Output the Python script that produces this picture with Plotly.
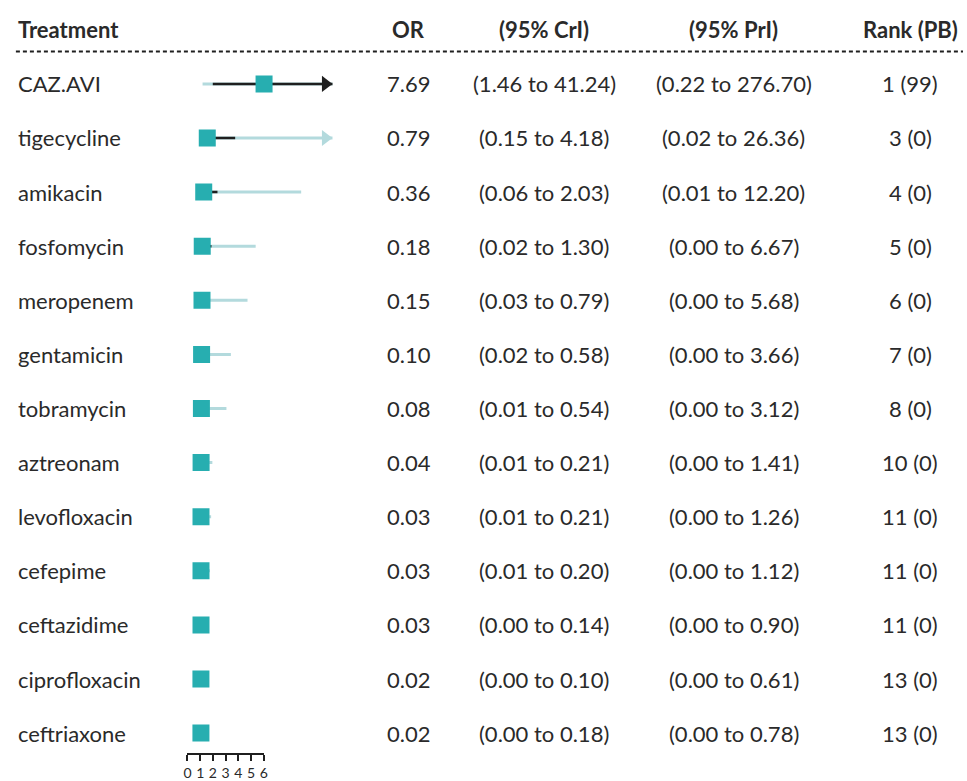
import plotly.graph_objects as go

treatments = ["CAZ.AVI", "tigecycline", "amikacin", "fosfomycin", "meropenem", "gentamicin",
              "tobramycin", "aztreonam", "levofloxacin", "cefepime", "ceftazidime",
              "ciprofloxacin", "ceftriaxone"]
or_vals = [7.69, 0.79, 0.36, 0.18, 0.15, 0.10, 0.08, 0.04, 0.03, 0.03, 0.03, 0.02, 0.02]
cri_lo = [1.46, 0.15, 0.06, 0.02, 0.03, 0.02, 0.01, 0.01, 0.01, 0.01, 0.00, 0.00, 0.00]
cri_hi = [41.24, 4.18, 2.03, 1.30, 0.79, 0.58, 0.54, 0.21, 0.21, 0.20, 0.14, 0.10, 0.18]
pri_lo = [0.22, 0.02, 0.01, 0.00, 0.00, 0.00, 0.00, 0.00, 0.00, 0.00, 0.00, 0.00, 0.00]
pri_hi = [276.70, 26.36, 12.20, 6.67, 5.68, 3.66, 3.12, 1.41, 1.26, 1.12, 0.90, 0.61, 0.78]
rank = [1, 3, 4, 5, 6, 7, 8, 10, 11, 11, 11, 13, 13]
pb = [99, 0, 0, 0, 0, 0, 0, 0, 0, 0, 0, 0, 0]
axis_ticks = [0, 1, 2, 3, 4, 5, 6]
headers = ["Treatment", "OR", "(95% CrI)", "(95% PrI)", "Rank (PB)"]

W, H = 967, 781
CAP = 16.0
TEAL = "#27aeb0"
LIGHT = "#b3dadd"
DARK = "#1f1f1f"
TXT = "#2a2a2a"
FONT = "Lato"

rows = list(range(len(treatments)))

def seg(lo, hi):
    xs, ys = [], []
    for i, (a, b) in enumerate(zip(lo, hi)):
        xs += [min(a, CAP), min(b, CAP), None]
        ys += [i, i, None]
    return xs, ys

fig = go.Figure()
px_, py_ = seg(pri_lo, pri_hi)
fig.add_trace(go.Scatter(x=px_, y=py_, mode="lines", line=dict(color=LIGHT, width=3),
                         hoverinfo="skip", showlegend=False))
cx_, cy_ = seg(cri_lo, cri_hi)
fig.add_trace(go.Scatter(x=cx_, y=cy_, mode="lines", line=dict(color=DARK, width=2.5),
                         hoverinfo="skip", showlegend=False))

arrow_off = 0.85
pa = [i for i in rows if pri_hi[i] > CAP and cri_hi[i] <= CAP]
fig.add_trace(go.Scatter(x=[CAP - arrow_off for _ in pa], y=pa, mode="markers",
                         marker=dict(symbol="triangle-right", size=14, color=LIGHT),
                         hoverinfo="skip", showlegend=False))
ca = [i for i in rows if cri_hi[i] > CAP]
fig.add_trace(go.Scatter(x=[CAP - arrow_off for _ in ca], y=ca, mode="markers",
                         marker=dict(symbol="triangle-right", size=14, color=DARK),
                         hoverinfo="skip", showlegend=False))

fig.add_trace(go.Scatter(x=or_vals, y=rows, mode="markers",
                         marker=dict(symbol="square", size=17, color=TEAL, line=dict(width=0)),
                         hoverinfo="skip", showlegend=False))

# invisible trace for the scale axis
fig.add_trace(go.Scatter(x=axis_ticks, y=[None] * len(axis_ticks), xaxis="x2", yaxis="y",
                         mode="markers", marker=dict(opacity=0), hoverinfo="skip", showlegend=False))

row_h = 54.17
y0_px = 84
ymin = -y0_px / row_h
ymax = ymin + H / row_h

fig.update_layout(
    width=W, height=H, margin=dict(l=0, r=0, t=0, b=0),
    paper_bgcolor="white", plot_bgcolor="rgba(0,0,0,0)",
    font=dict(family=FONT, color=TXT, size=22),
    xaxis=dict(domain=[160 / W, 345 / W], range=[(160 - 198.4) / 8.3, (345 - 198.4) / 8.3],
               visible=False, fixedrange=True),
    xaxis2=dict(domain=[185 / W, 262 / W], range=[0, 6], anchor="free",
                position=1 - 755 / H, side="bottom", tickvals=axis_ticks,
                ticktext=[str(t) for t in axis_ticks], ticks="outside", ticklen=6,
                tickwidth=1.5, tickcolor=DARK, showline=True, linecolor=DARK, linewidth=2,
                showgrid=False, zeroline=False, tickfont=dict(size=14, color=TXT, family=FONT)),
    yaxis=dict(domain=[0, 1], range=[ymax, ymin], visible=False, fixedrange=True),
    showlegend=False,
)

# column positions (paper fraction) and anchors
col_x = [12 / W, 408 / W, 545 / W, 736 / W, 914 / W]
col_anchor = ["left", "center", "center", "center", "center"]

for h, x, a in zip(headers, col_x, col_anchor):
    fig.add_annotation(text="<b>" + h + "</b>", x=x, xref="paper", y=-1, yref="y",
                       xanchor=a, yanchor="middle", showarrow=False,
                       font=dict(size=22, family=FONT, color=TXT))

for i in rows:
    vals = [treatments[i], f"{or_vals[i]:.2f}", f"({cri_lo[i]:.2f} to {cri_hi[i]:.2f})",
            f"({pri_lo[i]:.2f} to {pri_hi[i]:.2f})", f"{rank[i]} ({pb[i]})"]
    for v, x, a in zip(vals, col_x, col_anchor):
        fig.add_annotation(text=v, x=x, xref="paper", y=i, yref="y", xanchor=a,
                           yanchor="middle", showarrow=False,
                           font=dict(size=22, family=FONT, color=TXT))

fig.add_shape(type="line", xref="paper", yref="y", x0=12 / W, x1=1, y0=-0.6, y1=-0.6,
              line=dict(color=DARK, width=2, dash="4px,3px"))

fig.write_html("out.html", config={"displayModeBar": False},
               post_script="document.body.style.margin='0';document.body.style.overflow='hidden';")
